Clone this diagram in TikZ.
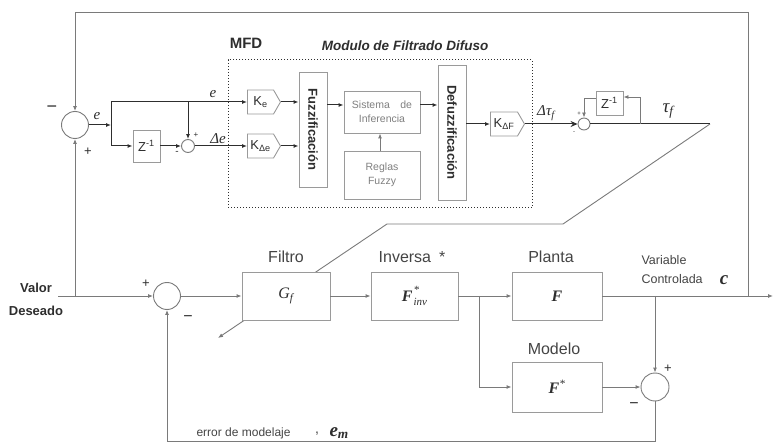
\documentclass[tikz,border=0pt]{standalone}
\usepackage{fontspec}
\setmainfont{Liberation Sans}
\newfontfamily\tms{Liberation Serif}
\usetikzlibrary{arrows.meta,shapes.symbols,backgrounds}
\newcommand\fsz[1]{\fontsize{#1}{#1}\selectfont}
\definecolor{lg}{HTML}{7A7A7A}
\definecolor{bg}{HTML}{9A9A9A}
\definecolor{tx}{HTML}{444444}
\definecolor{dk}{HTML}{2E2E2E}
\begin{document}
\begin{tikzpicture}[x=1pt,y=-1pt,
 box/.style={draw=bg,fill=white,line width=0.9pt,inner sep=0pt},
 sumc/.style={circle,draw=lg,fill=white,line width=0.9pt,inner sep=0pt,minimum size=#1},
 ln/.style={draw=lg,line width=0.9pt},
 dln/.style={draw=dk,line width=1pt},
 arr/.style={-{Latex[length=5pt,width=4pt]}},
 kbox/.style={signal,signal to=east,signal pointer angle=120,draw=bg,fill=white,line width=0.9pt,inner sep=0pt,minimum width=33pt,minimum height=24pt,font=\fsz{13},text=dk},
 lab/.style={font=\fsz{16},text=tx,inner sep=0pt},
 mth/.style={font=\fsz{16}\tms\itshape,text=dk,inner sep=0pt},
 sgn/.style={font=\fsz{13},text=dk,inner sep=0pt},
 rlab/.style={rotate=-90,font=\fsz{13}\bfseries,text=dk,inner sep=0pt},
]
\useasboundingbox (0,0) rectangle (773,443);

% ---------- upper part ----------
\node[sumc=27pt] (s1) at (75,125) {};
\node[box,minimum width=27pt,minimum height=32pt,font=\fsz{13},text=dk] (z1) at (146.5,146) {Z\textsuperscript{-1}};
\node[sumc=13pt] (s2) at (188,146) {};
\node[kbox] (ke) at (260.5,102) {K\textsubscript{e}\hspace{3pt}};
\node[kbox] (kde) at (260.5,146) {K\textsubscript{Δe}\hspace{2pt}};
\node[box,minimum width=28pt,minimum height=115pt] (fuz) at (313,129.5) {};
\node[rlab] at (fuz) {Fuzzificación};
\node[box,minimum width=76pt,minimum height=42pt,align=center,font=\fsz{10.5},text=gray] (inf) at (382,112) {Sistema\quad de\\[3pt]Inferencia};
\node[box,minimum width=76pt,minimum height=48pt,align=center,font=\fsz{10.5},text=gray] (reg) at (382,175) {Reglas\\[3pt]Fuzzy};
\node[box,minimum width=28pt,minimum height=135pt] (def) at (452,132.5) {};
\node[rlab] at (def) {Defuzzificación};
\node[kbox,minimum width=34pt] (kdf) at (504,124) {K\textsubscript{ΔF}\hspace{2pt}};
\node[sumc=12pt] (s3) at (584,124) {};
\node[box,minimum width=27pt,minimum height=24pt,font=\fsz{13},text=dk] (z2) at (609.5,103) {Z\textsuperscript{-1}};
\node[draw=dk,dotted,line width=1pt,minimum width=304pt,minimum height=148pt,inner sep=0pt] (mfd) at (380,134) {};

\node[font=\fsz{15}\bfseries,text=dk] (mfdl) at (246,43) {MFD};
\node[font=\fsz{13.5}\bfseries\itshape,text=dk] (mfdt) at (405,46) {Modulo de Filtrado Difuso};

% ---------- lower part ----------
\node[sumc=27pt] (s4) at (167,296) {};
\node[box,minimum width=88pt,minimum height=48pt,mth] (fil) at (286,296) {G\textsubscript{f}};
\node[box,minimum width=87pt,minimum height=48pt,mth] (inv) at (414.5,296) {\textbf{F}\hspace{1pt}\raisebox{-4pt}{\shortstack[l]{\fsz{11}*\\[1pt]\fsz{11}inv}}};
\node[box,minimum width=90pt,minimum height=48pt,mth] (pla) at (557,296) {\textbf{F}};
\node[box,minimum width=90pt,minimum height=50pt,mth] (mod) at (557,387) {\textbf{F}\textsuperscript{*}};
\node[sumc=28pt] (s5) at (655,387) {};

\node[lab] at (286,257) {Filtro};
\node[lab] at (412,257) {Inversa\enspace *};
\node[lab] at (551,257) {Planta};
\node[lab] at (554,349) {Modelo};
\node[font=\fsz{13}\bfseries,text=dk] at (36,288) {Valor};
\node[font=\fsz{13}\bfseries,text=dk] at (36,311) {Deseado};
\node[font=\fsz{12.5},text=tx,anchor=west] at (638,260) {Variable};
\node[font=\fsz{12.5},text=tx,anchor=west] at (638,279) {Controlada};
\node[font=\fsz{19}\tms\bfseries\itshape,text=dk] at (724,280) {c};
\node[font=\fsz{12},text=tx,anchor=west] at (193,433) {error de modelaje};
\node[font=\fsz{14},text=tx] at (317,434) {,};
\node[font=\fsz{19}\tms\bfseries\itshape,text=dk,anchor=west] at (326,433) {e\textsubscript{m}};

% signs and signal labels
\node[sgn,font=\fsz{18}] at (52,109) {−};
\node[sgn] at (88,152) {+};
\node[sgn,font=\fsz{8}] at (196,135) {+};
\node[sgn,font=\fsz{10}] at (177,153) {-};
\node[sgn,font=\fsz{6}] at (579,114) {+};
\node[sgn,font=\fsz{6}] at (574,133) {-};
\node[sgn] at (146,284) {+};
\node[sgn,font=\fsz{16}] at (188,319) {−};
\node[sgn] at (668,369) {+};
\node[sgn,font=\fsz{16}] at (634,406) {−};
\node[mth,font=\fsz{15}\tms\itshape] at (97,116) {e};
\node[mth,font=\fsz{15}\tms\itshape] at (213,94) {e};
\node[mth,font=\fsz{15}\tms\itshape] at (218,139) {Δe};
\node[mth,font=\fsz{15}\tms\itshape] at (546,113) {Δτ\textsubscript{f}};
\node[mth,font=\fsz{19}\tms\itshape] at (668,111) {τ\textsubscript{f}};

% ---------- connectors upper ----------
\coordinate (tl) at (75,12);
\coordinate (tr) at (748,12);
\coordinate (jr) at (748,296);
\coordinate (jl) at (75,296);
\coordinate (b1) at (111,125);
\coordinate (bt) at (111,102);
\coordinate (bb) at (111,146);
\draw[ln,arr] (jr) -- (tr) -- (tl) -- (s1.north);
\draw[ln,arr] (jl) -- (s1.south);
\draw[dln,arr] (s1.east) -- (b1);
\draw[dln] (bt) -- (bb);
\draw[dln,arr] (bt) -- (ke.west);
\draw[dln,arr] (bb) -- (z1.west);
\draw[dln,arr] (z1.east) -- (s2.west);
\draw[dln,arr] (s2.north |- bt) -- (s2.north);
\draw[dln,arr] (s2.east) -- (kde.west);
\draw[dln,arr] (ke.east) -- (ke.east -| fuz.west);
\draw[dln,arr] (kde.east) -- (kde.east -| fuz.west);
\draw[dln,arr] (fuz.east |- 0,105) -- (inf.west |- 0,105);
\draw[dln,arr] (inf.east |- 0,105) -- (def.west |- 0,105);
\draw[ln,arr] (reg.north -| 380,0) -- (inf.south -| 380,0);
\draw[dln,arr] (def.east |- kdf.west) -- (kdf.west);
\draw[dln,-{Stealth[length=7pt,width=6pt]}] (kdf.east) -- (s3.west);
\coordinate (te) at (710,124);
\coordinate (fb) at (640,124);
\draw[dln] (s3.east) -- (te);
\draw[ln,arr] (fb) -- (640,97) -- (z2.east |- 0,97);
\draw[ln,arr] (z2.west |- 0,98) -- (s3.north |- 0,98) -- (s3.north);

% adjustable-parameter arrow through the filter
\coordinate (adj) at (218,338);
\begin{pgfonlayer}{background}
\draw[ln,arr] (te) -- (563,224) -- (387,224) -- (adj);
\end{pgfonlayer}

% ---------- connectors lower ----------
\coordinate (vin) at (58,296);
\coordinate (sp) at (479,296);
\coordinate (out) at (773,296);
\coordinate (bot) at (655,441);
\draw[ln,arr] (vin) -- (s4.west);
\draw[ln,arr] (s4.east) -- (fil.west);
\draw[ln,arr] (fil.east) -- (inv.west);
\draw[ln] (inv.east) -- (sp);
\draw[ln,arr] (sp) -- (pla.west);
\draw[ln,arr] (sp) |- (mod.west);
\draw[ln,arr] (pla.east) -- (out);
\draw[ln,arr] (pla.east -| s5.north) -- (s5.north);
\draw[ln,arr] (mod.east) -- (s5.west);
\draw[ln,arr] (s5.south) -- (s5.south |- bot) -- (s4.south |- bot) -- (s4.south);
\end{tikzpicture}
\end{document}
